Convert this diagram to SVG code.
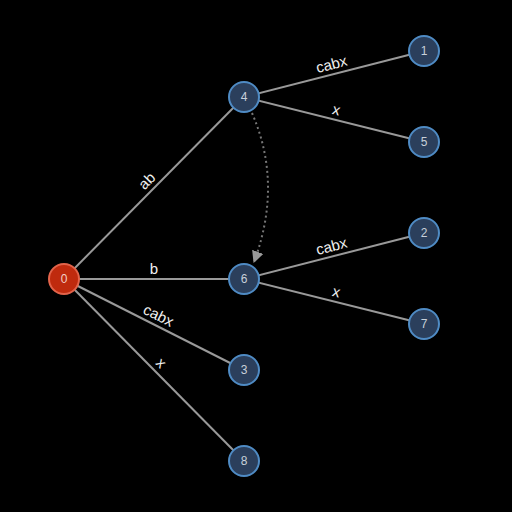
<svg xmlns="http://www.w3.org/2000/svg" width="512" height="512" viewBox="0 0 512 512">
  <defs>
    <marker id="arrow" viewBox="0 0 10 10" refX="9" refY="5" markerWidth="12" markerHeight="12" markerUnits="userSpaceOnUse" orient="auto">
      <path d="M0,0 L10,5 L0,10 Z" fill="#999"/>
    </marker>
    <style>
      .edge { stroke: #999; stroke-width: 2; fill: none; }
      .link { stroke: #777; stroke-width: 2; stroke-dasharray: 2 3; fill: none; }
      .elabel { font-family: "Liberation Sans", Arial, sans-serif; font-size: 15px; fill: #f0f0f0; text-anchor: middle; }
      .node circle { fill: #2b3f5c; stroke: #4f8bc4; stroke-width: 2; }
      .node.root circle { fill: #bf2a0e; stroke: #e2634a; }
      .node text { font-family: "Liberation Sans", Arial, sans-serif; font-size: 12px; fill: #c8d0da; text-anchor: middle; dominant-baseline: central; }
      .node.root text { fill: #f2d0c8; }
    </style>
  </defs>
  <rect width="512" height="512" fill="#000"/>

  <g id="connectors">
    <line class="edge" x1="64" y1="279" x2="244" y2="97"/>
    <line class="edge" x1="64" y1="279" x2="244" y2="279"/>
    <line class="edge" x1="64" y1="279" x2="244" y2="370"/>
    <line class="edge" x1="64" y1="279" x2="244" y2="461"/>
    <line class="edge" x1="244" y1="97" x2="424" y2="51"/>
    <line class="edge" x1="244" y1="97" x2="424" y2="142"/>
    <line class="edge" x1="244" y1="279" x2="424" y2="233"/>
    <line class="edge" x1="244" y1="279" x2="424" y2="324"/>
    <path class="link" d="M252,113 Q283,184 254,262" marker-end="url(#arrow)"/>

    <text class="elabel" transform="translate(154,188) rotate(-45.3)" y="-5">ab</text>
    <text class="elabel" transform="translate(154,279)" y="-5">b</text>
    <text class="elabel" transform="translate(154,324.5) rotate(26.8)" y="-5">cabx</text>
    <text class="elabel" transform="translate(154,370) rotate(45.3)" y="-5">x</text>
    <text class="elabel" transform="translate(334,74) rotate(-14.3)" y="-5">cabx</text>
    <text class="elabel" transform="translate(334,119.5) rotate(14)" y="-5">x</text>
    <text class="elabel" transform="translate(334,256) rotate(-14.3)" y="-5">cabx</text>
    <text class="elabel" transform="translate(334,301.5) rotate(14)" y="-5">x</text>
  </g>

  <g id="node-0" class="node root"><circle cx="64" cy="279" r="15"/><text x="64" y="279">0</text></g>
  <g id="node-4" class="node"><circle cx="244" cy="97" r="15"/><text x="244" y="97">4</text></g>
  <g id="node-6" class="node"><circle cx="244" cy="279" r="15"/><text x="244" y="279">6</text></g>
  <g id="node-3" class="node"><circle cx="244" cy="370" r="15"/><text x="244" y="370">3</text></g>
  <g id="node-8" class="node"><circle cx="244" cy="461" r="15"/><text x="244" y="461">8</text></g>
  <g id="node-1" class="node"><circle cx="424" cy="51" r="15"/><text x="424" y="51">1</text></g>
  <g id="node-5" class="node"><circle cx="424" cy="142" r="15"/><text x="424" y="142">5</text></g>
  <g id="node-2" class="node"><circle cx="424" cy="233" r="15"/><text x="424" y="233">2</text></g>
  <g id="node-7" class="node"><circle cx="424" cy="324" r="15"/><text x="424" y="324">7</text></g>
</svg>
